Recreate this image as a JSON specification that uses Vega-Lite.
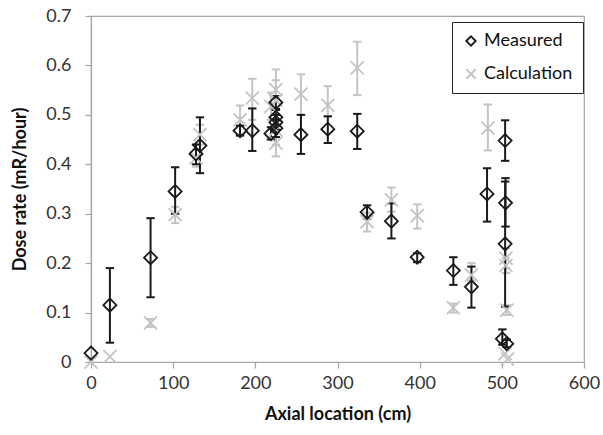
{
  "$schema": "https://vega.github.io/schema/vega-lite/v6.json",
  "width": 493,
  "height": 346,
  "autosize": "none",
  "padding": {"left": 91, "top": 16, "right": 19, "bottom": 73},
  "background": "white",
  "view": {"stroke": "#a6a6a6", "strokeWidth": 1.2},
  "config": {
    "font": "Lato",
    "axis": {"grid": false, "labelFlush": false, "domainColor": "#a6a6a6", "domainWidth": 1.2, "tickColor": "#a6a6a6", "tickWidth": 1.2, "tickSize": 6, "labelFontSize": 18, "labelColor": "#333333", "titleFontSize": 18, "titleFontWeight": "bold", "titleColor": "#111111", "labelFont": "Lato", "titleFont": "Lato"}
  },
  "data": {"values": [
    {"series": "Calculation", "x": 0, "y": 0.0},
    {"series": "Calculation", "x": 23, "y": 0.011},
    {"series": "Calculation", "x": 72.5, "y": 0.079, "lo": 0.071, "hi": 0.087},
    {"series": "Calculation", "x": 102.4, "y": 0.298, "lo": 0.281, "hi": 0.314},
    {"series": "Calculation", "x": 127.8, "y": 0.413, "lo": 0.395, "hi": 0.43},
    {"series": "Calculation", "x": 132.6, "y": 0.46, "lo": 0.44, "hi": 0.48},
    {"series": "Calculation", "x": 181.4, "y": 0.49, "lo": 0.46, "hi": 0.519},
    {"series": "Calculation", "x": 196.3, "y": 0.534, "lo": 0.49, "hi": 0.573},
    {"series": "Calculation", "x": 219, "y": 0.517, "lo": 0.49, "hi": 0.545},
    {"series": "Calculation", "x": 225, "y": 0.551, "lo": 0.51, "hi": 0.592},
    {"series": "Calculation", "x": 225, "y": 0.53, "lo": 0.49, "hi": 0.57},
    {"series": "Calculation", "x": 225, "y": 0.443, "lo": 0.416, "hi": 0.47},
    {"series": "Calculation", "x": 225, "y": 0.47, "lo": 0.44, "hi": 0.50},
    {"series": "Calculation", "x": 255.5, "y": 0.542, "lo": 0.50, "hi": 0.582},
    {"series": "Calculation", "x": 288.2, "y": 0.519, "lo": 0.497, "hi": 0.558},
    {"series": "Calculation", "x": 324, "y": 0.595, "lo": 0.54, "hi": 0.648},
    {"series": "Calculation", "x": 336, "y": 0.284, "lo": 0.264, "hi": 0.302},
    {"series": "Calculation", "x": 365.6, "y": 0.328, "lo": 0.304, "hi": 0.353},
    {"series": "Calculation", "x": 397, "y": 0.296, "lo": 0.27, "hi": 0.319},
    {"series": "Calculation", "x": 441, "y": 0.11, "lo": 0.10, "hi": 0.118},
    {"series": "Calculation", "x": 463, "y": 0.176, "lo": 0.165, "hi": 0.2},
    {"series": "Calculation", "x": 483, "y": 0.473, "lo": 0.428, "hi": 0.521},
    {"series": "Calculation", "x": 505, "y": 0.21, "lo": 0.19, "hi": 0.23},
    {"series": "Calculation", "x": 505, "y": 0.195, "lo": 0.18, "hi": 0.21},
    {"series": "Calculation", "x": 506, "y": 0.105, "lo": 0.095, "hi": 0.115},
    {"series": "Calculation", "x": 504, "y": 0.017},
    {"series": "Calculation", "x": 507, "y": 0.006},
    {"series": "Measured", "x": 0, "y": 0.018},
    {"series": "Measured", "x": 23, "y": 0.115, "lo": 0.039, "hi": 0.19},
    {"series": "Measured", "x": 72.5, "y": 0.211, "lo": 0.131, "hi": 0.291},
    {"series": "Measured", "x": 102.4, "y": 0.345, "lo": 0.30, "hi": 0.394},
    {"series": "Measured", "x": 127.8, "y": 0.421, "lo": 0.40, "hi": 0.44},
    {"series": "Measured", "x": 132.6, "y": 0.438, "lo": 0.382, "hi": 0.495},
    {"series": "Measured", "x": 181.4, "y": 0.468, "lo": 0.458, "hi": 0.478},
    {"series": "Measured", "x": 196.3, "y": 0.468, "lo": 0.427, "hi": 0.513},
    {"series": "Measured", "x": 219, "y": 0.462, "lo": 0.45, "hi": 0.475},
    {"series": "Measured", "x": 225, "y": 0.473, "lo": 0.455, "hi": 0.49},
    {"series": "Measured", "x": 225, "y": 0.485, "lo": 0.47, "hi": 0.50},
    {"series": "Measured", "x": 225, "y": 0.495, "lo": 0.48, "hi": 0.51},
    {"series": "Measured", "x": 225, "y": 0.525, "lo": 0.512, "hi": 0.538},
    {"series": "Measured", "x": 255.5, "y": 0.46, "lo": 0.421, "hi": 0.50},
    {"series": "Measured", "x": 288.2, "y": 0.471, "lo": 0.443, "hi": 0.497},
    {"series": "Measured", "x": 324, "y": 0.467, "lo": 0.431, "hi": 0.502},
    {"series": "Measured", "x": 336, "y": 0.303, "lo": 0.29, "hi": 0.317},
    {"series": "Measured", "x": 365.6, "y": 0.285, "lo": 0.25, "hi": 0.321},
    {"series": "Measured", "x": 397, "y": 0.212, "lo": 0.202, "hi": 0.22},
    {"series": "Measured", "x": 441, "y": 0.185, "lo": 0.156, "hi": 0.212},
    {"series": "Measured", "x": 463, "y": 0.152, "lo": 0.11, "hi": 0.193},
    {"series": "Measured", "x": 482, "y": 0.34, "lo": 0.284, "hi": 0.392},
    {"series": "Measured", "x": 504, "y": 0.448, "lo": 0.407, "hi": 0.489},
    {"series": "Measured", "x": 504.5, "y": 0.322, "lo": 0.274, "hi": 0.372},
    {"series": "Measured", "x": 504, "y": 0.239, "lo": 0.112, "hi": 0.365},
    {"series": "Measured", "x": 500.6, "y": 0.047, "lo": 0.035, "hi": 0.066},
    {"series": "Measured", "x": 506, "y": 0.037, "lo": 0.03, "hi": 0.045}
  ]},
  "encoding": {
    "x": {"field": "x", "type": "quantitative", "scale": {"domain": [0, 600], "nice": false, "zero": false}, "axis": {"values": [0, 100, 200, 300, 400, 500, 600], "title": "Axial location (cm)", "labelPadding": 6, "titlePadding": 13}}
  },
  "layer": [
    {
      "transform": [{"filter": "datum.lo != null && datum.series == 'Calculation'"}],
      "mark": {"type": "rule", "strokeWidth": 2, "color": "#c4c4c4"},
      "encoding": {"y": {"field": "lo", "type": "quantitative", "scale": {"domain": [0, 0.7], "nice": false}, "axis": {"values": [0, 0.1, 0.2, 0.3, 0.4, 0.5, 0.6, 0.7], "format": ".1~f", "title": "Dose rate (mR/hour)", "labelPadding": 14, "titlePadding": 16}}, "y2": {"field": "hi"}}
    },
    {
      "transform": [{"filter": "datum.lo != null && datum.series == 'Calculation'"}, {"fold": ["lo", "hi"], "as": ["end", "cap"]}],
      "mark": {"type": "point", "shape": "stroke", "size": 70, "strokeWidth": 2, "color": "#c4c4c4", "opacity": 1},
      "encoding": {"y": {"field": "cap", "type": "quantitative"}}
    },
    {
      "transform": [{"filter": "datum.lo != null && datum.series == 'Measured'"}],
      "mark": {"type": "rule", "strokeWidth": 2, "color": "#1a1a1a"},
      "encoding": {"y": {"field": "lo", "type": "quantitative"}, "y2": {"field": "hi"}}
    },
    {
      "transform": [{"filter": "datum.lo != null && datum.series == 'Measured'"}, {"fold": ["lo", "hi"], "as": ["end", "cap"]}],
      "mark": {"type": "point", "shape": "stroke", "size": 70, "strokeWidth": 2, "color": "#1a1a1a", "opacity": 1},
      "encoding": {"y": {"field": "cap", "type": "quantitative"}}
    },
    {
      "mark": {"type": "point", "filled": false, "strokeWidth": 1.8, "opacity": 1, "size": 170},
      "encoding": {
        "y": {"field": "y", "type": "quantitative"},
        "shape": {"field": "series", "type": "nominal", "scale": {"domain": ["Measured", "Calculation"], "range": ["diamond", "M-1,-1L1,1M-1,1L1,-1"]},
          "legend": {"title": null, "orient": "none", "legendX": 361, "legendY": 6, "strokeColor": "#222222", "fillColor": "white", "padding": 10, "labelFontSize": 18, "labelColor": "#111111", "labelFont": "Lato", "symbolSize": 90, "symbolStrokeWidth": 1.8, "rowPadding": 15, "labelOffset": 4}
        },
        "color": {"field": "series", "type": "nominal", "scale": {"domain": ["Measured", "Calculation"], "range": ["#1a1a1a", "#c4c4c4"]},
          "legend": {"title": null, "orient": "none", "legendX": 361, "legendY": 6, "strokeColor": "#222222", "fillColor": "white", "padding": 10, "labelFontSize": 18, "labelColor": "#111111", "labelFont": "Lato", "symbolSize": 90, "symbolStrokeWidth": 1.8, "rowPadding": 15, "labelOffset": 4}
        }
      }
    }
  ]
}
